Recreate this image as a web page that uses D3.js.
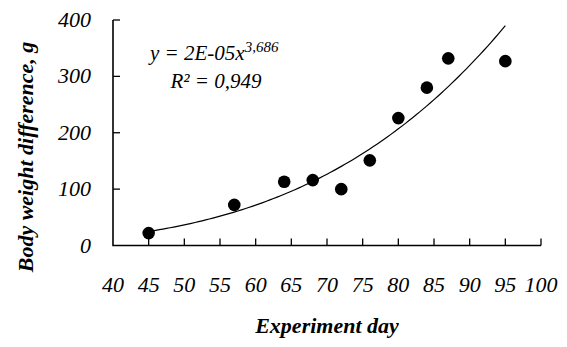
<!DOCTYPE html>
<html lang="en">
<head>
    <meta charset="UTF-8">
    <script src="https://d3js.org/d3.v7.min.js" charset="utf-8"></script>
</head>
<body style="margin:0">
<div class="chart"></div>
<script>
    const width = 567;
    const height = 347;
    const serifFont = "'Liberation Serif', 'Times New Roman', serif";

    // observed points
    const days = [45, 57, 64, 68, 72, 76, 80, 84, 87, 95];
    const weightDiff = [22, 72, 113, 116, 100, 151, 226, 280, 332, 327];

    // tick labels
    const xTicks = [40, 45, 50, 55, 60, 65, 70, 75, 80, 85, 90, 95, 100];
    const yTicks = [0, 100, 200, 300, 400];

    // power trendline shown on the chart: y = 2E-05 x^3.686
    const trendCoef = 2e-5;
    const trendExp = 3.686;

    const svg = d3.select(".chart").append("svg")
        .attr("width", width)
        .attr("height", height)
        .style("font-family", serifFont)
        .style("font-style", "italic");

    const x = d3.scaleLinear().domain([40, 100]).range([113, 541]);
    const y = d3.scaleLinear().domain([0, 400]).range([245.5, 20]);

    // axis lines and inward ticks
    svg.append("path")
        .attr("d", `M${x(40)},${y(400)}V${y(0)}H${x(100)}`)
        .attr("fill", "none")
        .attr("stroke", "black")
        .attr("stroke-width", 1.6);

    svg.selectAll(".xtick")
        .data(xTicks.slice(1))
        .enter()
        .append("line")
        .attr("x1", d => x(d)).attr("x2", d => x(d))
        .attr("y1", y(0)).attr("y2", y(0) - 7)
        .attr("stroke", "black").attr("stroke-width", 1.3);

    svg.selectAll(".ytick")
        .data(yTicks.slice(1))
        .enter()
        .append("line")
        .attr("x1", x(40)).attr("x2", x(40) + 7)
        .attr("y1", d => y(d)).attr("y2", d => y(d))
        .attr("stroke", "black").attr("stroke-width", 1.3);

    // tick labels
    svg.selectAll(".xlab")
        .data(xTicks)
        .enter()
        .append("text")
        .attr("x", d => x(d))
        .attr("y", 292)
        .style("font-size", "22px")
        .style("font-style", "italic")
        .style("font-family", serifFont)
        .attr("text-anchor", "middle")
        .text(d => d);

    svg.selectAll(".ylab")
        .data(yTicks)
        .enter()
        .append("text")
        .attr("x", 91)
        .attr("y", d => y(d) + 7)
        .style("font-size", "22px")
        .style("font-style", "italic")
        .style("font-family", serifFont)
        .attr("text-anchor", "end")
        .text(d => d);

    // axis titles
    svg.append("text")
        .attr("x", 327)
        .attr("y", 333)
        .style("font-size", "22px")
        .style("font-style", "italic")
        .style("font-weight", "bold")
        .style("font-family", serifFont)
        .attr("text-anchor", "middle")
        .text("Experiment day");

    svg.append("text")
        .attr("transform", "translate(33,157) rotate(-90)")
        .style("font-size", "22px")
        .style("font-style", "italic")
        .style("font-weight", "bold")
        .style("font-family", serifFont)
        .attr("text-anchor", "middle")
        .text("Body weight difference, g");

    // trendline
    const trendDays = d3.range(45, 95.01, 0.5);
    const line = d3.line()
        .x(d => x(d))
        .y(d => y(trendCoef * Math.pow(d, trendExp)));
    svg.append("path")
        .datum(trendDays)
        .attr("d", line)
        .attr("fill", "none")
        .attr("stroke", "black")
        .attr("stroke-width", 1.2);

    // points
    svg.selectAll("circle")
        .data(days)
        .enter()
        .append("circle")
        .attr("cx", d => x(d))
        .attr("cy", (d, i) => y(weightDiff[i]))
        .attr("r", 6.3)
        .attr("fill", "black");

    // equation
    const eq = svg.append("text")
        .attr("x", 150)
        .attr("y", 60)
        .style("font-size", "21px")
        .style("font-style", "italic")
        .style("font-family", serifFont);
    eq.append("tspan").text("y = 2E-05x");
    eq.append("tspan").attr("dy", -8).style("font-size", "15px").text("3,686");

    svg.append("text")
        .attr("x", 216)
        .attr("y", 88)
        .style("font-size", "21px")
        .style("font-style", "italic")
        .style("font-family", serifFont)
        .attr("text-anchor", "middle")
        .text("R² = 0,949");
</script>
</body>
</html>
